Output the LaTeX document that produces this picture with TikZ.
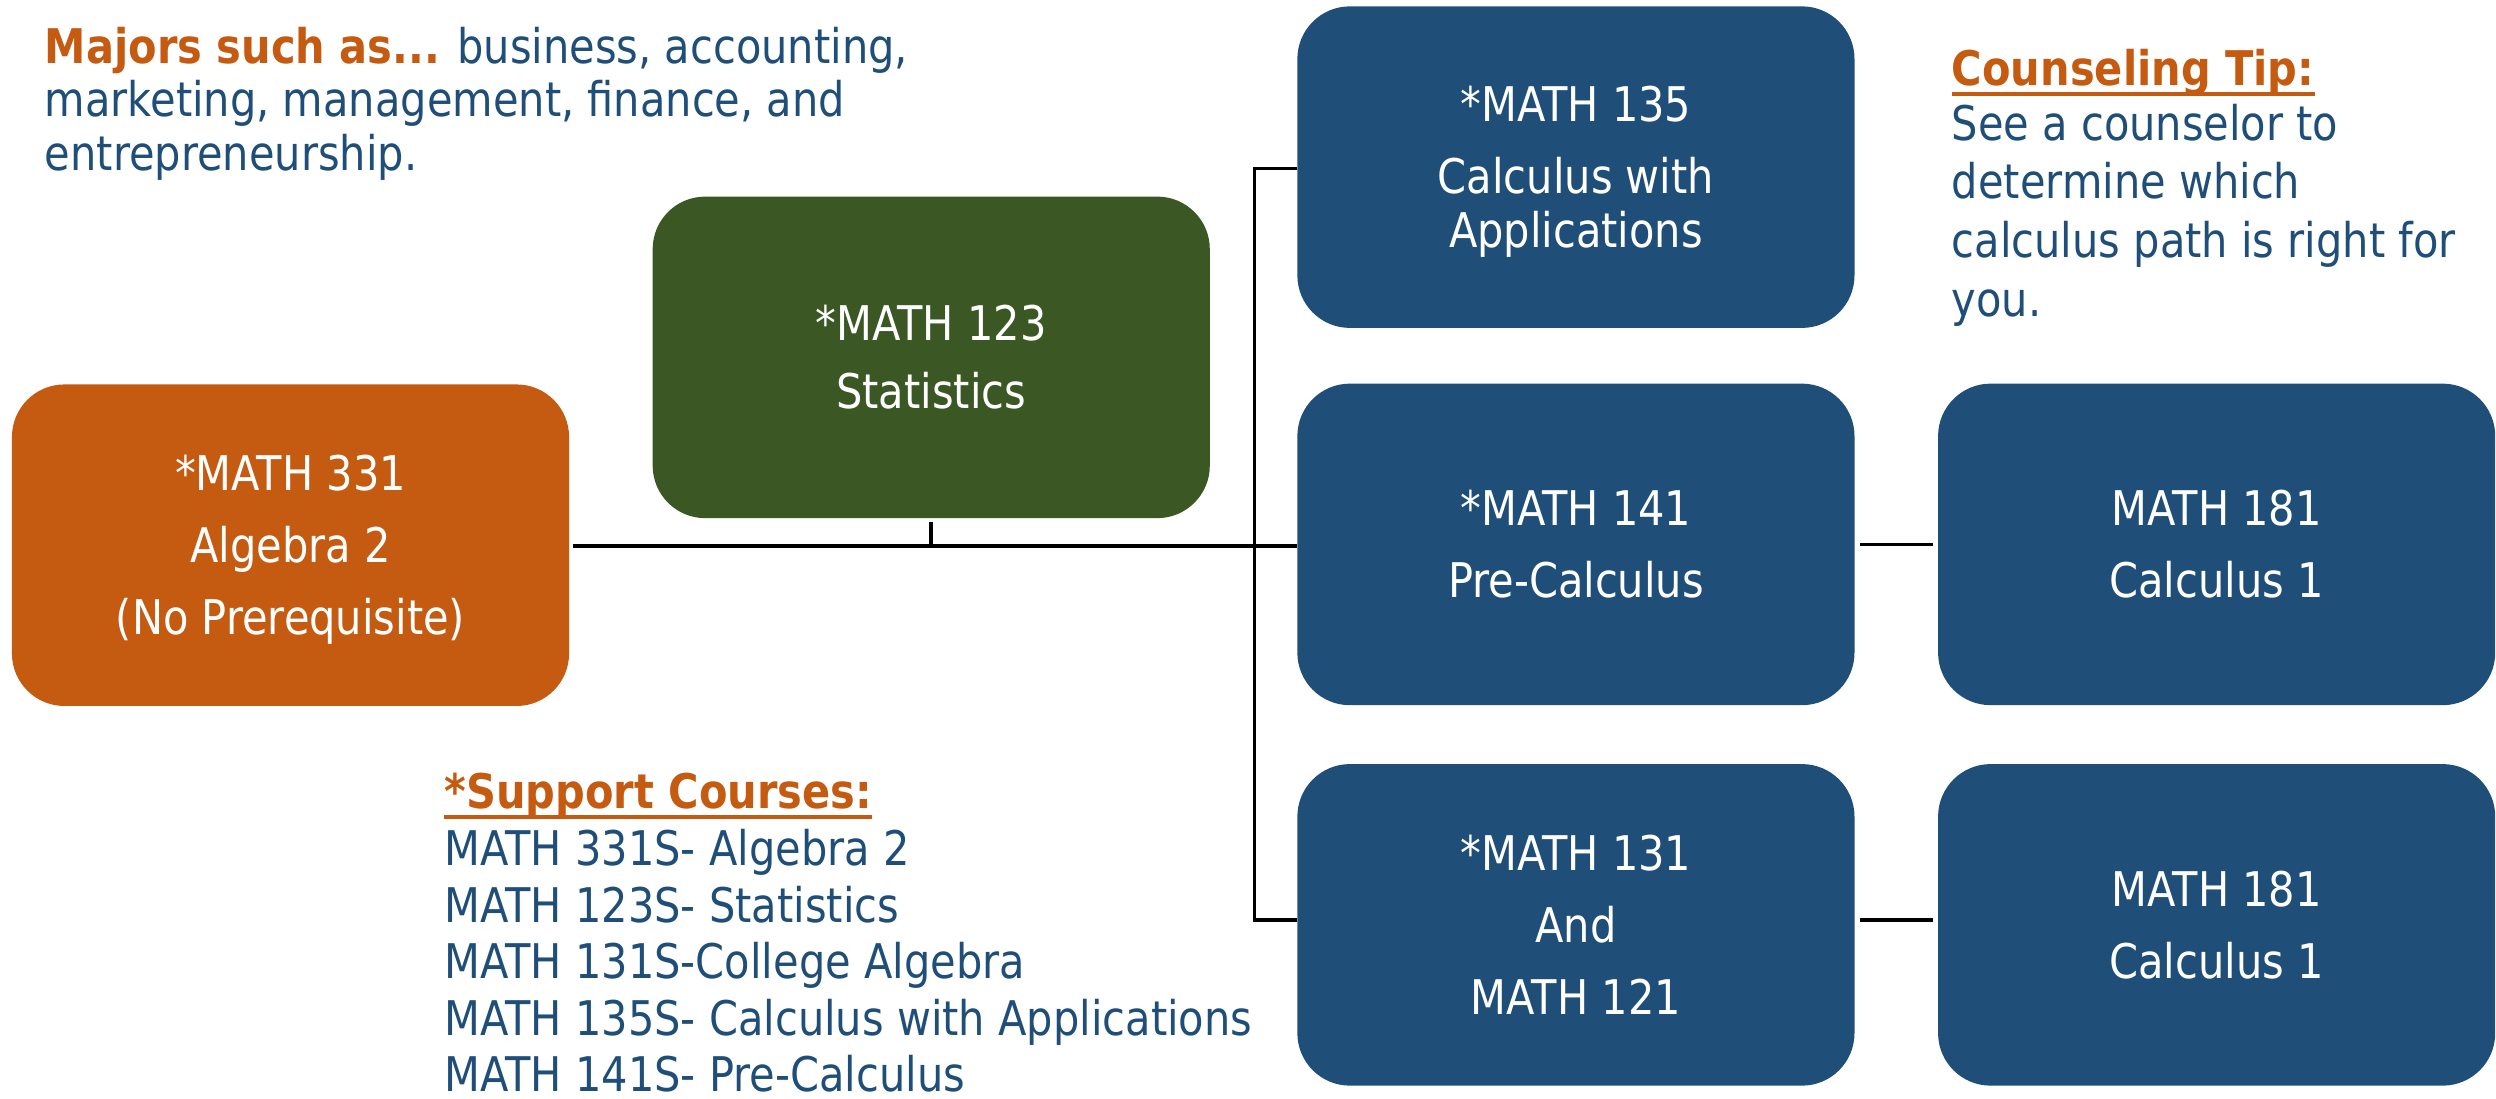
\documentclass[tikz,border=0pt]{standalone}
\usepackage{fontspec}
\usetikzlibrary{calc}
\setmainfont{DejaVu Sans}[FakeStretch=0.87]
\definecolor{borange}{HTML}{C55A11}
\definecolor{bgreen}{HTML}{3A5724}
\definecolor{bblue}{HTML}{1F4E79}
\definecolor{tblue}{HTML}{1F4E79}
\definecolor{torange}{HTML}{C55A11}
\newcommand{\tallstrut}{\rule{0pt}{28pt}}
\begin{document}
\begin{tikzpicture}[x=1pt,y=-1pt]
\tikzset{
  cbox/.style={rounded corners=33pt, minimum width=350pt, minimum height=202pt,
    inner sep=0pt, text=white, align=center, font=\fontsize{30}{34}\selectfont},
  conn/.style={line width=2.2pt, black},
  mainconn/.style={line width=3pt, black},
  txt/.style={inner sep=0pt, anchor=north west, align=left, text=tblue,
    font=\fontsize{30}{36}\selectfont},
  head/.style={inner sep=0pt, anchor=base west, text=torange,
    font=\bfseries\fontsize{30}{36}\selectfont},
  uline/.style={line width=2.5pt, torange},
}
\useasboundingbox (0,0) rectangle (1568,690);

% boxes
\node[cbox, fill=borange] (m331) at (182.5,342.5) {\tallstrut*MATH 331\\[11pt]Algebra 2\\[11pt](No Prerequisite)};
\node[cbox, fill=bgreen] (m123) at (585,224.5) {*MATH 123\\[9pt]Statistics};
\node[cbox, fill=bblue] (m135) at (990,105) {\tallstrut*MATH 135\\[11pt]Calculus with\\Applications};
\node[cbox, fill=bblue] (m141) at (990,342) {*MATH 141\\[11pt]Pre-Calculus};
\node[cbox, fill=bblue] (m131) at (990,581) {*MATH 131\\[11pt]And\\[11pt]MATH 121};
\node[cbox, fill=bblue] (c181a) at (1392.5,342) {MATH 181\\[11pt]Calculus 1};
\node[cbox, fill=bblue] (c181b) at (1392.5,581) {MATH 181\\[11pt]Calculus 1};

% connectors
\coordinate (j) at (788,343);
\coordinate (jt) at (788,106);
\coordinate (jb) at (788,578);
\draw[mainconn, shorten <=2pt] (m331.east |- j) -- (j);
\draw[conn, shorten <=2pt] (m123.south) -- (m123.south |- j);
\draw[conn, line cap=rect] (jt) -- (jb);
\draw[conn] (jt) -- (m135.west |- jt);
\draw[conn] (j) -- (m141.west |- j);
\draw[conn] (jb) -- (m131.west |- jb);
\draw[conn, shorten <=3pt, shorten >=3pt] (m141.east) -- (c181a.west);
\draw[conn, shorten <=3pt, shorten >=3pt] (m131.east |- jb) -- (c181b.west |- jb);

% texts
\node[txt, font=\fontsize{30}{33.5}\selectfont] (majors) at (28,17)
  {{\bfseries\color{torange}Majors such as...} business, accounting,\\marketing, management, finance, and\\entrepreneurship.};

\node[head] (tiph) at (1226,54) {Counseling Tip:};
\draw[uline] ($(tiph.base west)+(0,5)$) -- ($(tiph.base east)+(0,5)$);
\node[txt, font=\fontsize{30}{37}\selectfont] (tip) at (1226,65)
  {See a counselor to\\determine which\\calculus path is right for\\you.};

\node[head] (suph) at (279,508) {*Support Courses:};
\draw[uline] ($(suph.base west)+(0,5)$) -- ($(suph.base east)+(0,5)$);
\node[txt, font=\fontsize{30}{35.4}\selectfont] (sup) at (279,521)
  {MATH 331S- Algebra 2\\MATH 123S- Statistics\\MATH 131S-College Algebra\\MATH 135S- Calculus with Applications\\MATH 141S- Pre-Calculus};
\end{tikzpicture}
\end{document}
